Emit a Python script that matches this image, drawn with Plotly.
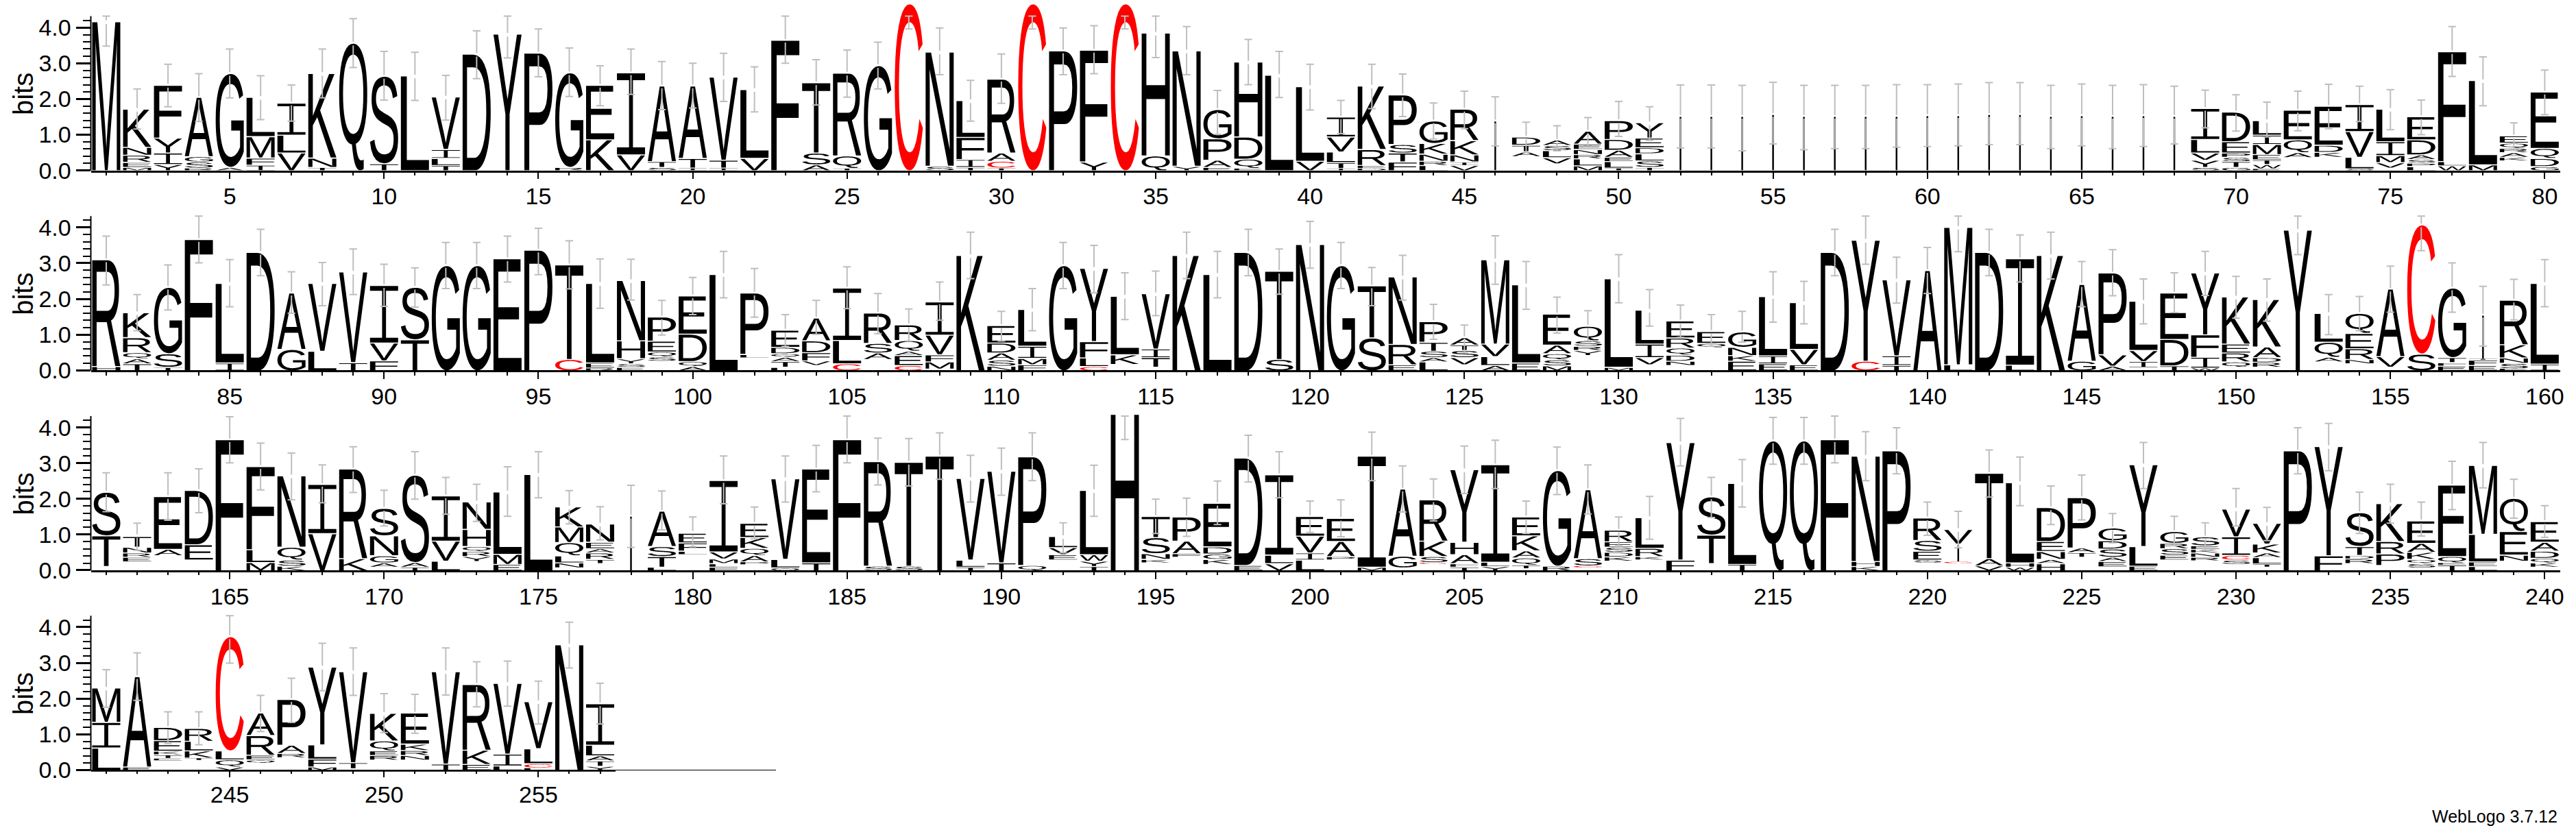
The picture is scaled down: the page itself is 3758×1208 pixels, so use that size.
import glob, struct
import plotly.graph_objects as go

# ---------- data: letters listed bottom to top, " " = empty part of a stack, "|" = hairline stack ----------
ROW1_LETTERS = ["M","MERNK","YIYF","RSGA","AG","IFML","VLI","TNK","Q","TS","L","TLIV","D","Y","P","RG","KE","VI","STA","ITA",
 "ITV","VL","F","AST","TQR","G","C","SN","TIFL","TCAR","C","P","YF","C","QH","YN","EAPG","EQDH","L","VL",
 "ITLVI","DERK","FTSP","LRNKG","VINKR","|"," ATD"," VLSA","MLRNEA","TLEADP","TSLDEY","|","|","|","|","|","|","|","|","|",
 "|","|","|","|","|","|","|","|","SYVLI","GTSPED","EWTEMIL"," AQE"," KDE","SLVI"," VMIL","LPSADE","WLF","ML"," KARQE","GDQE"]
ROW1_HEIGHTS = [[4.15],[.1,.14,.2,.22,1.04],[.18,.32,.42,1.45],[.08,.17,.15,1.63],[.1,2.6],[.16,.2,.6,1.07],[.5,.5,.87],[.1,.26,2.34],[3.55],[.2,2.42],
 [2.63],[.15,.2,.25,1.44],[3.24],[3.8],[3.27],[.1,2.62],[.87,1.5],[.45,2.27],[.1,.16,2.09],[.08,.27,2.0],
 [.08,.22,2.3],[.35,1.9],[3.63],[.17,.33,1.94],[.07,.35,2.29],[2.92],[4.65],[.13,3.17],[.1,.22,.62,1.0],[.08,.19,.23,2.04],
 [4.65],[3.33],[.25,3.1],[4.65],[.42,3.41],[.13,3.2],[.1,.2,.6,.79],[.07,.26,.62,2.07],[2.65],[.27,2.06],
 [.07,.16,.3,.42,.53],[.07,.08,.45,1.75],[.25,.25,.24,1.36],[.15,.12,.2,.3,.6],[.15,.1,.2,.4,.85],[1.37],[.4,.14,.18,.2],[.2,.17,.2,.14,.12],[.14,.2,.12,.14,.15,.33],[.08,.18,.12,.2,.3,.5],
 [.1,.18,.2,.17,.27,.4],[1.5],[1.5],[1.5],[1.55],[1.5],[1.5],[1.5],[1.5],[1.52],[1.52],[1.55],[1.55],[1.5],[1.52],[1.5],[1.52],[1.5],
 [.1,.2,.2,.38,.84],[.1,.16,.12,.12,.32,.8],[.06,.12,.13,.15,.28,.26,.38],[.37,.14,.36,.8],[.38,.14,.2,1.06],[.06,.32,.72,.73],[.08,.15,.2,.39,.88],[.12,.1,.1,.13,.42,.62],[.14,.12,3.05],[.17,2.33],[.28,.1,.13,.12,.15,.17],[.12,.23,.28,1.55]]
ROW1_ERR_HIGH = [4.32,2.28,2.97,2.71,3.4,2.65,2.39,3.4,4.25,3.33,3.31,2.66,3.91,4.32,3.96,3.43,2.93,3.4,3.05,3.0,
 3.28,2.9,4.32,3.1,3.37,3.59,4.32,3.99,2.52,3.26,4.32,3.99,4.05,4.32,4.32,4.03,2.24,3.67,3.33,2.97,
 1.96,2.97,2.7,1.89,2.22,2.06,1.35,1.25,1.48,1.93,1.78,2.39,2.39,2.38,2.47,2.38,2.38,2.38,2.4,2.4,
 2.42,2.46,2.46,2.38,2.42,2.38,2.4,2.36,2.25,2.12,1.91,2.22,2.41,2.36,2.26,1.97,4.03,3.18,1.33,2.81]
ROW1_ERR_LOW = [3.48,1.16,1.78,1.37,2.03,1.42,1.38,2.03,2.88,1.97,1.96,1.41,2.57,3.15,2.62,2.07,1.81,2.13,1.7,1.75,
 1.93,1.64,3.0,1.83,2.05,2.28,3.96,2.68,1.38,1.88,3.96,2.68,2.71,3.96,3.16,2.68,1.01,2.4,2.04,1.69,
 1.03,1.73,1.51,.88,1.17,.69,.5,.55,.68,.95,.84,.63,.63,.55,.74,.58,.61,.61,.65,.67,
 .69,.72,.72,.61,.69,.61,.67,.74,1.19,1.1,.94,1.11,1.17,1.37,1.14,1.0,2.63,1.81,.56,1.56]

ROW2_LETTERS = ["HR","TAQRK","TSG","F","IL","D","GA","LV","TV","FVI","TS","G","G","E","P","CT","REL","ESYHN"," SQEP","AQDE",
 "L"," LP","LTAQDE"," VFDA","CLI"," ASR","CEAQR"," MFVI","K","NSADE","FMIL","G","CLFY"," KL"," TIV","K","L","D","ST","N",
 "G","ST","ERN","LASTP"," VSTA","ALVM","EL","MSQAE"," YRSQ","ML"," VIL"," NDQRE"," QE","EKNG","EIL","EVL","D","CY","TIV","A",
 "LM","D","LI","K","GA","AVP"," IVL","TDE","WIFY"," QREK"," RDAK","Y"," AQL"," NREQ"," VA","SC","EFTG","EFT|","ESNKR","IL"]
ROW2_HEIGHTS = [[.12,2.96],[.2,.14,.17,.42,.67],[.1,.38,1.83],[3.65],[.22,2.2],[3.29],[.6,1.55],[.55,1.87],[.23,2.51],[.28,.5,1.58],
 [.87,1.44],[2.92],[2.92],[3.11],[3.35],[.32,2.62],[.08,.14,2.2],[.1,.1,.14,.5,1.66],[.27,.12,.14,.3,.65],[.12,.14,.77,1.04],
 [2.67],[.36,.1,1.69],[.1,.16,.12,.1,.18,.45],[.15,.13,.23,.33,.61],[.2,.65,1.44],[.32,.18,.27,.82],[.15,.28,.12,.3,.41],[.05,.2,.2,.55,.9],[3.2],[.13,.17,.2,.28,.46],
 [.17,.18,.34,1.0],[2.92],[.12,.24,.46,2.02],[.18,.27,1.61],[.1,.27,.24,1.52],[3.2],[2.67],[3.29],[.32,2.44],[3.51],
 [2.92],[.92,1.43],[.17,.57,1.86],[.25,.12,.18,.25,.55],[.17,.2,.2,.15,.18],[.15,.25,.35,2.33],[.22,2.16],[.14,.17,.17,.24,.84],[.43,.14,.12,.15,.38],[.1,2.45],
 [.17,.2,.38,.92],[.15,.12,.17,.2,.28,.45],[.65,.12,.3],[.27,.16,.23,.4],[.2,.22,1.63],[.17,.43,1.28],[3.29],[.27,3.36],[.15,.27,2.1],[2.78],
 [.17,3.82],[3.29],[.16,2.95],[3.2],[.27,2.12],[.13,.32,2.26],[.09,.17,.31,1.35],[.14,.74,1.27],[.08,.3,.63,1.7],[.1,.15,.25,.25,1.29],
 [.1,.14,.13,.3,1.3],[3.91],[.25,.13,.42,.78],[.2,.12,.3,.43,.53],[.1,.3,1.86],[.47,3.59],[.13,.1,.14,1.92],[.15,.15,.03,1.2],[.06,.15,.15,.37,1.22],[.19,2.23]]
ROW2_ERR_HIGH = [3.76,2.12,2.95,4.32,3.1,3.95,2.76,3.02,3.4,2.97,2.87,3.58,3.58,3.76,3.98,3.63,3.12,3.11,1.96,2.6,
 3.33,2.85,1.56,1.96,2.9,2.15,1.72,2.47,3.87,1.65,2.29,3.58,3.5,2.73,2.78,3.87,3.33,3.95,3.4,4.17,
 3.58,2.88,3.22,1.85,1.27,3.77,3.05,2.05,1.67,3.24,2.26,1.83,1.56,1.65,2.76,2.49,3.95,4.32,3.17,3.44,
 4.32,3.95,3.79,3.87,3.05,3.38,2.56,2.73,3.33,2.63,2.56,4.32,2.12,2.07,2.92,4.32,3.01,2.35,2.55,3.1]
ROW2_ERR_LOW = [2.39,1.11,1.69,3.01,1.78,2.65,1.6,1.81,2.12,1.79,1.77,2.29,2.29,2.47,2.68,2.28,1.74,1.97,.99,1.56,
 2.03,1.49,.67,1.01,1.73,1.03,.82,1.4,2.57,.82,1.11,2.29,2.17,1.42,1.53,2.57,2.03,2.65,2.13,2.86,
 2.29,1.81,1.97,.87,.5,2.41,1.71,1.04,.82,1.89,1.24,.92,.68,.79,1.35,1.3,2.65,2.97,1.88,2.15,
 3.32,2.65,2.47,2.56,1.78,2.09,1.3,1.62,2.1,1.46,1.38,3.24,1.0,1.11,1.63,3.35,1.63,.68,1.41,1.78]

ROW3_LETTERS = [" TS"," ERNTS"," AE"," ED","F","MLF","KSQN","VI","KR"," AGNS","TAS","LVI"," YRQHN","EML","L"," NLQMK"," TRAEN","|","LTSA"," LFED",
 "FLMVI"," PAQKE","OLV","TE","F","SR","ST","T","TLV","TV","QP"," EVL","TYWL","H"," KNST"," FAP"," KGDE","ED","VLI","LIVE",
 " PAE","MI"," GA"," CSKR","TFAHY","YLI"," TQAKE","RG"," CSA"," KDSER"," KRL","FY"," TS","TL","Q","Q","F","KHN","P"," SESR",
 " C|V","VAT","WHL","HANED"," TAP"," EASDG","ELY"," ESRG"," RNKES"," SCIV"," TLAKV","P","FY"," RDTS"," PRK"," SQKAE","TEQE","LELM"," NEQ"," KQDAE"]
ROW3_HEIGHTS = [[.12,.86,1.19],[.25,.13,.12,.16,.3],[.42,.18,1.45],[.3,.43,1.49],[3.64],[.23,.36,2.3],[.13,.17,.36,1.97],[1.04,1.35],[.34,2.48],[.1,.12,.2,.56,.74],
 [.1,.13,2.42],[.27,.56,1.24],[.26,.14,.14,.14,.48,.74],[.18,.28,1.72],[2.67],[.08,.14,.2,.37,.44,.53],[.2,.12,.18,.12,.18,.48],[1.5],[.1,.3,.28,.96],[.45,.1,.23,.27],
 [.1,.1,.13,.2,1.97],[.17,.08,.18,.2,.3,.37],[.08,.24,2.23],[.22,2.6],[3.64],[.13,2.9],[.13,2.88],[3.18],[.1,.2,2.26],[.22,2.54],
 [.15,3.01],[.3,.15,.2,.28],[.12,.15,.18,1.77],[4.35],[.22,.1,.16,.45,.56],[.38,.1,.35,.65],[.18,.14,.15,.2,1.19],[.15,2.98],[.2,.24,2.22],[.3,.2,.47,.52],
 [.3,.1,.42,.62],[.1,3.08],[.08,.33,1.85],[.18,.05,.17,.43,1.13],[.1,.1,.25,.35,2.0],[.12,.12,2.7],[.06,.1,.2,.2,.42,.5],[.13,2.65],[.08,.06,.2,1.9],[.27,.12,.13,.14,.15,.3],
 [.3,.1,.23,.83],[.3,3.26],[.2,.8,1.04],[.18,2.24],[3.61],[3.61],[3.64],[.12,.14,2.92],[3.33],[.22,.08,.25,.3,.6],
 [.2,.05,.5,.38],[.14,.2,2.36],[.1,.12,2.22],[.2,.12,.22,.28,.92],[.38,.13,.13,1.38],[.11,.15,.12,.23,.23,.33],[.13,.55,2.26],[.3,.14,.18,.15,.3],[.28,.1,.12,.1,.1,.22],[.18,.12,.13,.52,.75],
 [.1,.09,.18,.13,.25,.55],[3.33],[.42,3.03],[.2,.13,.1,.25,.92],[.15,.32,.35,1.03],[.08,.12,.12,.2,.25,.6],[.16,.06,.18,1.97],[.12,.13,.77,1.9],[.27,.17,.66,.9],[.1,.12,.13,.2,.25,.55]]
ROW3_ERR_HIGH = [2.73,1.32,2.73,2.84,4.3,3.56,3.28,2.95,3.46,2.24,3.32,2.6,2.41,2.9,3.32,2.23,1.78,2.38,2.22,1.49,
 3.2,1.77,3.2,3.5,4.32,3.7,3.69,3.85,3.22,3.42,3.85,1.33,2.94,4.32,1.99,2.02,2.5,3.78,3.32,1.94,
 1.97,3.87,2.92,2.56,3.48,3.64,1.94,3.45,2.95,1.49,2.07,4.25,2.6,3.1,4.28,4.28,4.32,3.88,3.99,1.91,
 1.65,3.37,3.17,2.36,2.67,1.59,3.58,1.51,1.33,2.29,1.76,3.99,4.11,2.19,2.41,1.91,3.05,3.58,2.55,1.81]
ROW3_ERR_LOW = [1.64,.56,1.4,1.61,3.01,2.25,1.97,1.89,2.18,1.24,1.99,1.57,1.37,1.51,2.03,1.3,.85,.64,1.13,.66,
 1.86,.88,1.91,2.2,3.01,2.39,2.36,2.55,1.91,2.1,2.51,.49,1.51,3.66,1.03,.95,1.28,2.47,2.03,1.06,
 .94,2.51,1.63,1.38,2.15,2.29,1.03,2.12,1.58,.68,.87,2.92,1.48,1.77,2.97,2.97,3.01,2.51,2.7,.98,
 .63,2.05,1.81,1.28,1.41,.77,2.29,.69,.56,1.24,.83,2.7,2.79,1.03,1.32,.96,1.7,2.31,1.46,.92]

ROW4_LETTERS = ["LIM","EA"," ETKED"," TKLR","VQLC"," QERA"," RAP","MFLY"," TV"," REQK"," NRKE","TV","EKR","LIV","LCLV","N","YTALI"]
ROW4_HEIGHTS = [[.63,.72,.93],[.1,2.5],[.27,.07,.1,.1,.3,.34],[.28,.07,.2,.27,.33],[.1,.2,.25,3.17],[.2,.1,.13,.55,.6],[.36,.12,.23,1.25],[.1,.22,.4,2.15],[.05,.17,2.52],[.29,.13,.13,.28,.74],
 [.29,.13,.14,.18,.84],[.18,2.56],[.17,.4,1.81],[.13,.33,1.95],[.07,.12,.42,1.29],[3.49],[.12,.15,.14,.3,1.13]]
ROW4_ERR_HIGH = [2.81,3.28,1.63,1.63,4.32,2.09,2.57,3.55,3.42,2.14,2.12,3.42,3.03,3.05,2.49,4.14,2.43]
ROW4_ERR_LOW = [1.76,1.95,.74,.71,2.99,1.08,1.33,2.22,2.09,1.05,1.03,2.1,1.77,1.79,1.29,2.86,1.29]

ROWS = [(1, ROW1_LETTERS, ROW1_HEIGHTS, ROW1_ERR_HIGH, ROW1_ERR_LOW),
        (81, ROW2_LETTERS, ROW2_HEIGHTS, ROW2_ERR_HIGH, ROW2_ERR_LOW),
        (161, ROW3_LETTERS, ROW3_HEIGHTS, ROW3_ERR_HIGH, ROW3_ERR_LOW),
        (241, ROW4_LETTERS, ROW4_HEIGHTS, ROW4_ERR_HIGH, ROW4_ERR_LOW)]
Y_TICKS = [0, 1, 2, 3, 4]
Y_MINOR = [0.2, 0.4, 0.6, 0.8, 1.2, 1.4, 1.6, 1.8, 2.2, 2.4, 2.6, 2.8, 3.2, 3.4, 3.6, 3.8, 4.2]
Y_MAX = 4.32           # log2(20), top of the left spine

# ---------- page geometry ----------
W, H = 3758, 1208
BASELINES = [248.6, 540.3, 832.0, 1123.4]
TOPVIEW = 4.74
PX_BIT = 52.1
PX_POS = 45.03
LEFT = 132.5
LETTER_HALF = 0.455
FONT = "Liberation Sans, Arial, sans-serif"


# ---------- letter outlines: read from the installed sans font, unit-box normalised ----------
def read_font(path):
    data = open(path, "rb").read()
    n = struct.unpack(">H", data[4:6])[0]
    tab = {}
    for i in range(n):
        t, _, off, ln = struct.unpack(">4sLLL", data[12 + 16 * i:28 + 16 * i])
        tab[t.decode()] = (off, ln)
    fmt = struct.unpack(">h", data[tab["head"][0] + 50:tab["head"][0] + 52])[0]
    cm = tab["cmap"][0]
    sub = None
    for i in range(struct.unpack(">H", data[cm + 2:cm + 4])[0]):
        pid, eid, off = struct.unpack(">HHL", data[cm + 4 + 8 * i:cm + 12 + 8 * i])
        if struct.unpack(">H", data[cm + off:cm + off + 2])[0] == 4:
            sub = cm + off
    seg = struct.unpack(">H", data[sub + 6:sub + 8])[0] // 2
    arr = lambda o, c: struct.unpack(">%dH" % c, data[o:o + 2 * c])
    ends = arr(sub + 14, seg)
    starts = arr(sub + 16 + 2 * seg, seg)
    deltas = arr(sub + 16 + 4 * seg, seg)
    ro_pos = sub + 16 + 6 * seg
    ros = arr(ro_pos, seg)

    def gid(ch):
        c = ord(ch)
        for i in range(seg):
            if starts[i] <= c <= ends[i]:
                if ros[i] == 0:
                    return (c + deltas[i]) & 0xFFFF
                p = ro_pos + 2 * i + ros[i] + 2 * (c - starts[i])
                g = struct.unpack(">H", data[p:p + 2])[0]
                return (g + deltas[i]) & 0xFFFF if g else 0
        return 0

    def outline(ch):
        g = gid(ch)
        loca = tab["loca"][0]
        if fmt:
            a, b = struct.unpack(">LL", data[loca + 4 * g:loca + 4 * g + 8])
        else:
            a, b = [2 * v for v in struct.unpack(">HH", data[loca + 2 * g:loca + 2 * g + 4])]
        p = tab["glyf"][0] + a
        nc = struct.unpack(">h", data[p:p + 2])[0]
        p += 10
        cend = arr(p, nc)
        p += 2 * nc
        p += 2 + struct.unpack(">H", data[p:p + 2])[0]
        total = cend[-1] + 1
        flags = []
        while len(flags) < total:
            f = data[p]
            p += 1
            flags.append(f)
            if f & 8:
                flags += [f] * data[p]
                p += 1
        xs, ys = [], []
        for coords, short, same in ((xs, 2, 16), (ys, 4, 32)):
            v = 0
            for f in flags:
                if f & short:
                    v += data[p] if f & same else -data[p]
                    p += 1
                elif not f & same:
                    v += struct.unpack(">h", data[p:p + 2])[0]
                    p += 2
                coords.append(v)
        contours, s = [], 0
        for e in cend:
            pts = [(xs[i], ys[i], flags[i] & 1) for i in range(s, e + 1)]
            s = e + 1
            full = []
            for i, q in enumerate(pts):
                full.append(q)
                r = pts[(i + 1) % len(pts)]
                if not q[2] and not r[2]:
                    full.append(((q[0] + r[0]) / 2, (q[1] + r[1]) / 2, 1))
            k = next(i for i, q in enumerate(full) if q[2])
            full = full[k:] + full[:k]
            line = []
            m = len(full)
            i = 0
            while i < m:
                q = full[i]
                if q[2]:
                    line.append((q[0], q[1]))
                    i += 1
                else:
                    a0 = line[-1]
                    b0 = full[(i + 1) % m]
                    for t in (0.2, 0.4, 0.6, 0.8, 1.0):
                        u = 1 - t
                        line.append((u * u * a0[0] + 2 * u * t * q[0] + t * t * b0[0],
                                     u * u * a0[1] + 2 * u * t * q[1] + t * t * b0[1]))
                    i += 2 if b0[2] else 1
            contours.append(line)
        x0 = min(x for c in contours for x, _ in c)
        x1 = max(x for c in contours for x, _ in c)
        y0 = min(y for c in contours for _, y in c)
        y1 = max(y for c in contours for _, y in c)
        return [[((x - x0) / (x1 - x0), (y - y0) / (y1 - y0)) for x, y in c] for c in contours]

    return outline


paths = []
for root in ("/usr/share/fonts", "/usr/local/share/fonts", "/root/.fonts", "/opt"):
    paths += glob.glob(root + "/**/LiberationSans-Regular.ttf", recursive=True)
outline = read_font(paths[0])

GLYPHS = {}
for ch in sorted(set("".join(ROW1_LETTERS + ROW2_LETTERS + ROW3_LETTERS + ROW4_LETTERS))):
    if ch not in " |I":
        GLYPHS[ch] = outline(ch)
# this logo draws I with bars top and bottom, and hairline columns where gaps dominate
GLYPHS["I"] = [[(0, 0), (0, .085), (.43, .085), (.43, .915), (0, .915), (0, 1), (1, 1), (1, .915),
                (.57, .915), (.57, .085), (1, .085), (1, 0)]]
GLYPHS["|"] = [[(.47, 0), (.47, 1), (.53, 1), (.53, 0)]]


# ---------- figure ----------
fig = go.Figure()
layout = dict(width=W, height=H, autosize=False, margin=dict(l=0, r=0, t=0, b=0, pad=0, autoexpand=False),
              paper_bgcolor="white", plot_bgcolor="white", showlegend=False, font=dict(family=FONT, color="black"),
              shapes=[], annotations=[])

for i, (first, letters, heights, err_high, err_low) in enumerate(ROWS):
    assert len(letters) == len(heights) == len(err_high) == len(err_low), i
    suf = "" if i == 0 else str(i + 1)
    xid, yid = "x" + suf, "y" + suf
    n_pos = 80 if i < 3 else 22.2
    x_range = [first - 0.5, first - 0.5 + n_pos]
    bottom = BASELINES[i]
    dom_y = [1 - bottom / H, 1 - (bottom - TOPVIEW * PX_BIT) / H]
    positions = [first + k for k in range(len(letters))]
    layout["xaxis" + suf] = dict(domain=[LEFT / W, (LEFT + n_pos * PX_POS) / W], range=x_range, anchor=yid,
                                 automargin=False, showgrid=False, zeroline=False, showline=True, linecolor="black",
                                 linewidth=2.6 if i < 3 else 1,
                                 ticks="outside", ticklen=10, tickwidth=2, tickcolor="black", tickmode="array",
                                 tickvals=[p for p in positions if p % 5 == 0], ticklabelstandoff=-4,
                                 tickfont=dict(family=FONT, size=34, color="black"),
                                 minor=dict(tickmode="array", tickvals=positions, ticks="outside", ticklen=4.5,
                                            tickwidth=2, tickcolor="black", showgrid=False))
    layout["yaxis" + suf] = dict(domain=dom_y, range=[0, TOPVIEW], anchor=xid, automargin=False, showgrid=False,
                                 zeroline=False,
                                 showline=False, ticks="outside", ticklen=21, tickwidth=2.6, tickcolor="black",
                                 tickmode="array", tickvals=Y_TICKS, ticktext=["%.1f" % v for v in Y_TICKS],
                                 tickfont=dict(family=FONT, size=34, color="black"),
                                 minor=dict(tickmode="array", tickvals=Y_MINOR, ticks="outside", ticklen=11,
                                            tickwidth=2.4, tickcolor="black", showgrid=False))
    # left spine stops at log2(20)
    layout["shapes"].append(dict(type="line", xref=xid + " domain", yref=yid + " domain", x0=0, x1=0, y0=0,
                                 y1=Y_MAX / TOPVIEW, line=dict(color="black", width=2)))
    if i == 3:
        layout["shapes"].append(dict(type="line", xref=xid + " domain", yref=yid + " domain", x0=0,
                                     x1=len(letters) / n_pos, y0=-0.004, y1=-0.004,
                                     line=dict(color="black", width=2.6)))
    layout["annotations"].append(dict(text="bits", textangle=-90, xref="paper", yref="paper", x=34 / W,
                                      y=1 - (bottom - 111.5) / H, showarrow=False, xanchor="center", yanchor="middle",
                                      font=dict(family=FONT, size=40, color="black")))

    # stacked letters
    bx, by, rx, ry = [], [], [], []
    for p, word, hs in zip(positions, letters, heights):
        base = 0.0
        for j, (ch, h) in enumerate(zip(word, hs)):
            if ch != " ":
                pad = 0 if j == len(word) - 1 else min(0.03, 0.3 * h)
                ink = h - pad
                tx, ty = (rx, ry) if ch == "C" else (bx, by)
                for contour in GLYPHS[ch]:
                    tx += [p - LETTER_HALF + 2 * LETTER_HALF * u for u, _ in contour] + [None]
                    ty += [base + ink * v for _, v in contour] + [None]
            base += h
    for tx, ty, col in ((bx, by, "#000000"), (rx, ry, "#FF0000")):
        if tx:
            fig.add_trace(go.Scatter(x=tx, y=ty, mode="lines", fill="toself", fillcolor=col,
                                     line=dict(width=0, color=col, simplify=False), hoverinfo="skip",
                                     xaxis=xid, yaxis=yid))

    # error bars with the small break at the stack top
    ex, ey = [], []
    for p, hs, up, lo in zip(positions, heights, err_high, err_low):
        top = sum(hs)
        cap = 0.125
        ex += [p - cap, p + cap, None, p - cap, p + cap, None]
        ey += [up, up, None, lo, lo, None]
        if lo + 0.08 < top < up - 0.08:
            ex += [p, p, None, p, p, None]
            ey += [up, top + 0.05, None, top - 0.05, lo, None]
        else:
            ex += [p, p, None]
            ey += [up, lo, None]
    fig.add_trace(go.Scatter(x=ex, y=ey, mode="lines", line=dict(color="#BEBEBE", width=2, simplify=False),
                             hoverinfo="skip", xaxis=xid, yaxis=yid))

layout["annotations"].append(dict(text="WebLogo 3.7.12", xref="paper", yref="paper", x=3733 / W, y=1 - 1191 / H,
                                  xanchor="right", yanchor="middle", showarrow=False,
                                  font=dict(family=FONT, size=25, color="black")))
fig.update_layout(**layout)
fig.write_html("out.html", config={"displayModeBar": False}, post_script=(
    "document.documentElement.style.overflow='hidden';"
    "document.body.style.margin='0';document.body.style.overflow='hidden';"
    "document.body.style.height='1208px';"))
